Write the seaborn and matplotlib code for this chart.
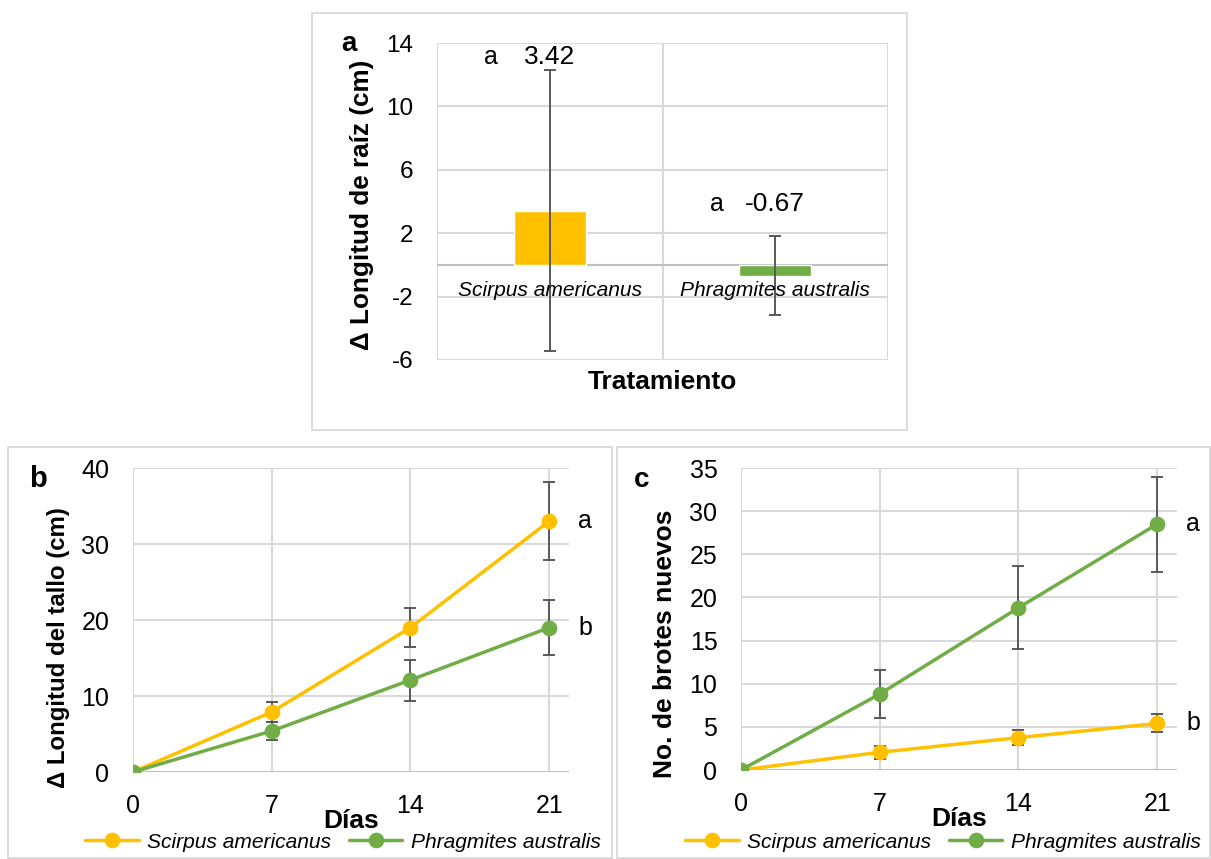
import matplotlib
matplotlib.use("Agg")
import matplotlib.pyplot as plt
import numpy as np
import pandas as pd
import seaborn as sns
from matplotlib.patches import Rectangle
from matplotlib.lines import Line2D

# ---- data ----
species = ["Scirpus americanus", "Phragmites australis"]
root_mean = [3.42, -0.67]
root_err = [8.87, 2.50]
root_groups = ["a", "a"]
root_label_y = [13.1, 3.85]

days = [0, 7, 14, 21]
stem_scirpus = [0.0, 7.9, 19.0, 33.0]
stem_scirpus_err = [0.0, 1.3, 2.55, 5.1]
stem_phrag = [0.0, 5.4, 12.1, 19.0]
stem_phrag_err = [0.0, 1.15, 2.7, 3.6]
stem_groups = ["a", "b"]

shoots_scirpus = [0.0, 2.05, 3.75, 5.4]
shoots_scirpus_err = [0.0, 0.75, 0.9, 1.05]
shoots_phrag = [0.0, 8.8, 18.8, 28.5]
shoots_phrag_err = [0.0, 2.75, 4.8, 5.5]
shoots_groups = ["b", "a"]

YELLOW = "#FFC000"
GREEN = "#70AD47"
GRID = "#D9D9D9"
AXIS = "#BFBFBF"
ERR = "#595959"

sns.set_theme(style="white")
plt.rcParams["font.family"] = ["Liberation Sans", "DejaVu Sans"]
plt.rcParams["text.color"] = "black"
plt.rcParams["axes.labelcolor"] = "black"
plt.rcParams["xtick.color"] = "black"
plt.rcParams["ytick.color"] = "black"
plt.rcParams["axes.unicode_minus"] = False

W, H = 1211, 859
fig = plt.figure(figsize=(W / 100, H / 100), dpi=100)
fig.patch.set_facecolor("white")


def px_rect(x0, y0, x1, y1):
    return [x0 / W, 1 - y1 / H, (x1 - x0) / W, (y1 - y0) / H]


# chart-area frames
for x0, y0, x1, y1 in [(312, 13, 907, 430), (8, 447, 612, 858), (617, 447, 1210, 858)]:
    fig.add_artist(Rectangle((x0 / W, 1 - y1 / H), (x1 - x0) / W, (y1 - y0) / H,
                             transform=fig.transFigure, fill=False,
                             ec=GRID, lw=1.3))

LABEL_FS = 19
LEG_FS = 15.1

# ---- panel a: bar chart ----
ax_a = fig.add_axes(px_rect(437, 43, 888, 360))
df_root = pd.DataFrame({"Especie": species, "delta": root_mean})
sns.barplot(data=df_root, x="Especie", y="delta", hue="Especie",
            palette=[YELLOW, GREEN], width=0.32, saturation=1,
            errorbar=None, legend=False, ax=ax_a, zorder=2)
ax_a.errorbar(range(len(species)), root_mean, yerr=root_err, fmt="none",
              ecolor=ERR, elinewidth=1.4, capsize=4.3, capthick=1.4, zorder=4)
ax_a.set_xlim(-0.5, 1.5)
ax_a.set_ylim(-6, 14)
ax_a.set_yticks(np.arange(-6, 15, 4))
ax_a.set_xticks([])
for yv in np.arange(-6, 15, 4):
    ax_a.axhline(yv, color=GRID, lw=1.5, zorder=0)
for xv in [-0.5, 0.5, 1.5]:
    ax_a.axvline(xv, color=GRID, lw=1.5, zorder=0)
ax_a.axhline(0, color=AXIS, lw=1.5, zorder=1)
for s in ax_a.spines.values():
    s.set_visible(False)
ax_a.tick_params(axis="y", length=0, pad=17, labelsize=17.5)
for i, name in enumerate(species):
    ax_a.text(i, -1.6, name, ha="center", va="center", style="italic",
              fontsize=LEG_FS, zorder=5)
    ax_a.text(i, root_label_y[i], f"{root_mean[i]:.2f}", ha="center",
              va="center", fontsize=19, zorder=5)
    ax_a.annotate(root_groups[i], xy=(i, root_label_y[i]), xytext=(-42, 0),
                  textcoords="offset points", ha="center", va="center",
                  fontsize=18)
ax_a.set_ylabel("Δ Longitud de raíz (cm)", fontsize=18.8, fontweight="bold")
ax_a.yaxis.set_label_coords(-0.166, 0.49)
ax_a.yaxis.label.set_va("center")
ax_a.set_xlabel("Tratamiento", fontsize=LABEL_FS, fontweight="bold")
ax_a.xaxis.set_label_coords(0.5, -0.069)
ax_a.xaxis.label.set_va("center")
fig.text(349 / W, 1 - 44 / H, "a", fontsize=20, fontweight="bold",
         ha="center", va="center")


# ---- panels b and c: line charts ----
def line_panel(rect, scirpus, scirpus_err, phrag, phrag_err, groups,
               ymax, ystep, ylabel, ylabel_fs, ylab_pos, letter, letter_fs,
               letter_pos, legend_x):
    ax = fig.add_axes(px_rect(*rect))
    df = pd.DataFrame({
        "Días": days * 2,
        "valor": scirpus + phrag,
        "Especie": [species[0]] * len(days) + [species[1]] * len(days),
    })
    for vals, errs in [(scirpus, scirpus_err), (phrag, phrag_err)]:
        ax.errorbar(days, vals, yerr=errs, fmt="none", ecolor=ERR,
                    elinewidth=1.4, capsize=4.4, capthick=1.4, zorder=2)
    sns.lineplot(data=df, x="Días", y="valor", hue="Especie",
                 palette=[YELLOW, GREEN], marker="o", markersize=11.3,
                 markeredgewidth=0, linewidth=2.5, legend=False, ax=ax,
                 zorder=3)
    ax.set_xlim(0, 22)
    ax.set_ylim(0, ymax)
    ax.set_xticks(days)
    ax.set_yticks(np.arange(0, ymax + 0.1, ystep))
    for xv in days:
        ax.axvline(xv, color=GRID, lw=1.5, zorder=0)
    for yv in np.arange(ystep, ymax + 0.1, ystep):
        ax.axhline(yv, color=GRID, lw=1.5, zorder=0)
    ax.axhline(0, color=AXIS, lw=1.5, zorder=1)
    for s in ax.spines.values():
        s.set_visible(False)
    ax.tick_params(axis="y", length=0, pad=17, labelsize=18)
    ax.tick_params(axis="x", length=0, pad=16, labelsize=18)
    ax.set_ylabel(ylabel, fontsize=ylabel_fs, fontweight="bold")
    ax.yaxis.set_label_coords(*ylab_pos)
    ax.yaxis.label.set_va("center")
    ax.set_xlabel("Días", fontsize=LABEL_FS, fontweight="bold")
    ax.xaxis.set_label_coords(0.5, -0.162)
    ax.xaxis.label.set_va("center")
    for vals, g in [(scirpus, groups[0]), (phrag, groups[1])]:
        ax.annotate(g, xy=(21, vals[-1]), xytext=(26, 0),
                    textcoords="offset points", ha="center", va="center",
                    fontsize=18)
    fig.text(letter_pos[0] / W, 1 - letter_pos[1] / H, letter,
             fontsize=letter_fs, fontweight="bold", ha="center", va="center")
    handles = [Line2D([], [], color=YELLOW, lw=2.5, marker="o", markersize=11.3,
                      markeredgewidth=0),
               Line2D([], [], color=GREEN, lw=2.5, marker="o", markersize=11.3,
                      markeredgewidth=0)]
    fig.legend(handles, species, loc="center",
               bbox_to_anchor=(legend_x / W, 1 - 842 / H), ncol=2,
               frameon=False, handlelength=2.55, handletextpad=0.4,
               columnspacing=0.85,
               prop={"style": "italic", "size": LEG_FS,
                     "family": ["Liberation Sans", "DejaVu Sans"]})
    return ax


line_panel((133, 468, 569, 772), stem_scirpus, stem_scirpus_err,
           stem_phrag, stem_phrag_err, stem_groups, 40, 10,
           "Δ Longitud del tallo (cm)", 17.3, (-0.17, 0.41), "b", 21,
           (38, 479), 343)
line_panel((741, 468, 1177, 770), shoots_scirpus, shoots_scirpus_err,
           shoots_phrag, shoots_phrag_err, shoots_groups, 35, 5,
           "No. de brotes nuevos", 19, (-0.174, 0.417), "c", 20,
           (642, 480), 943)

fig.savefig("out.png", dpi=100)
